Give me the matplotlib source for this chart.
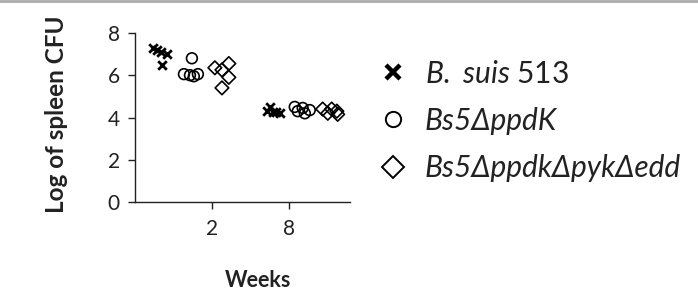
import matplotlib
matplotlib.use("Agg")
import matplotlib.pyplot as plt
from matplotlib.lines import Line2D
import numpy as np

plt.rcParams['font.family'] = ['Lato', 'DejaVu Sans']
plt.rcParams['mathtext.fontset'] = 'custom'
plt.rcParams['mathtext.it'] = 'Lato:italic'
plt.rcParams['mathtext.rm'] = 'Lato'

# Data
series_names = [r"$\mathit{B.}$ $\mathit{suis}$ 513", "Bs5\u0394ppdK", "Bs5\u0394ppdk\u0394pyk\u0394edd"]
weeks = ["2", "8"]
suis_w2 = [7.3, 7.2, 7.1, 7.0, 6.5]
ppdk_w2 = [6.8, 6.05, 6.0, 5.95, 6.05]
triple_w2 = [6.35, 6.25, 6.55, 5.9, 5.4]
suis_w8 = [4.5, 4.3, 4.25, 4.2, 4.25]
ppdk_w8 = [4.5, 4.45, 4.3, 4.2, 4.35]
triple_w8 = [4.4, 4.4, 4.2, 4.3, 4.15]

# layout (positions)
centers = {"w2": [1.15, 2.6, 4.05], "w8": [6.45, 7.8, 9.1]}
jit_w2 = [[-0.3, -0.13, 0.06, 0.34, 0.11],
          [0.05, -0.32, -0.04, 0.14, 0.33],
          [-0.33, 0.0, 0.32, 0.32, 0.0]]
jit_w8 = [[-0.17, -0.31, -0.03, 0.29, 0.11],
          [-0.36, 0.01, -0.22, 0.11, 0.34],
          [-0.36, 0.06, -0.12, 0.3, 0.34]]
tick_pos = [3.58, 7.16]

fig = plt.figure(figsize=(6.98, 2.99), dpi=100)
ax = fig.add_axes([0.1934, 0.324, 0.3076, 0.566])

data_w2 = [suis_w2, ppdk_w2, triple_w2]
data_w8 = [suis_w8, ppdk_w8, triple_w8]
styles = [dict(marker='x', color='black', s=38, linewidths=2.0),
          dict(marker='o', facecolors='none', edgecolors='black', s=60, linewidths=1.2),
          dict(marker='D', facecolors='none', edgecolors='black', s=48, linewidths=1.2)]

for i in range(3):
    xs = centers["w2"][i] + np.array(jit_w2[i])
    ax.scatter(xs, data_w2[i], zorder=3, **styles[i])
    xs = centers["w8"][i] + np.array(jit_w8[i])
    ax.scatter(xs, data_w8[i], zorder=3, **styles[i])

ax.set_xlim(0, 10)
ax.set_ylim(0, 8)
ax.set_yticks([0, 2, 4, 6, 8])
ax.set_xticks(tick_pos)
ax.set_xticklabels(weeks)
ax.spines['top'].set_visible(False)
ax.spines['right'].set_visible(False)
for sp in ['left', 'bottom']:
    ax.spines[sp].set_linewidth(1.0)
    ax.spines[sp].set_color('#222222')
ax.tick_params(axis='both', labelsize=15, length=5, width=1.0, color='#222222', labelcolor='#222222')
ax.tick_params(axis='x', pad=7)
ax.tick_params(axis='y', pad=6)
ax.set_ylabel("Log of spleen CFU", fontsize=17.5, fontweight='bold', color='#222222')
ax.yaxis.set_label_coords(-0.31, 0.52)
fig.text(0.37, 0.063, "Weeks", fontsize=15.5, fontweight='bold', ha='center', va='center', color='#222222')

handles = [Line2D([], [], marker='x', color='black', ls='none', markersize=10, mew=3.2),
           Line2D([], [], marker='o', mfc='none', mec='black', ls='none', markersize=11, mew=1.4),
           Line2D([], [], marker='D', mfc='none', mec='black', ls='none', markersize=11, mew=1.4)]
leg = fig.legend(handles, series_names, loc='upper left', bbox_to_anchor=(0.537, 0.80),
                 frameon=False, prop=dict(size=21.5), handletextpad=0.48,
                 labelspacing=0.64, handlelength=1.2, borderaxespad=0, borderpad=0)
texts = leg.get_texts()
for t in texts:
    t.set_color('#222222')
texts[1].set_style('italic')
texts[2].set_style('italic')

fig.add_artist(Line2D([0, 1], [0.995, 0.995], transform=fig.transFigure, color='#aaaaaa', lw=2))

fig.savefig("out.png", dpi=100)
